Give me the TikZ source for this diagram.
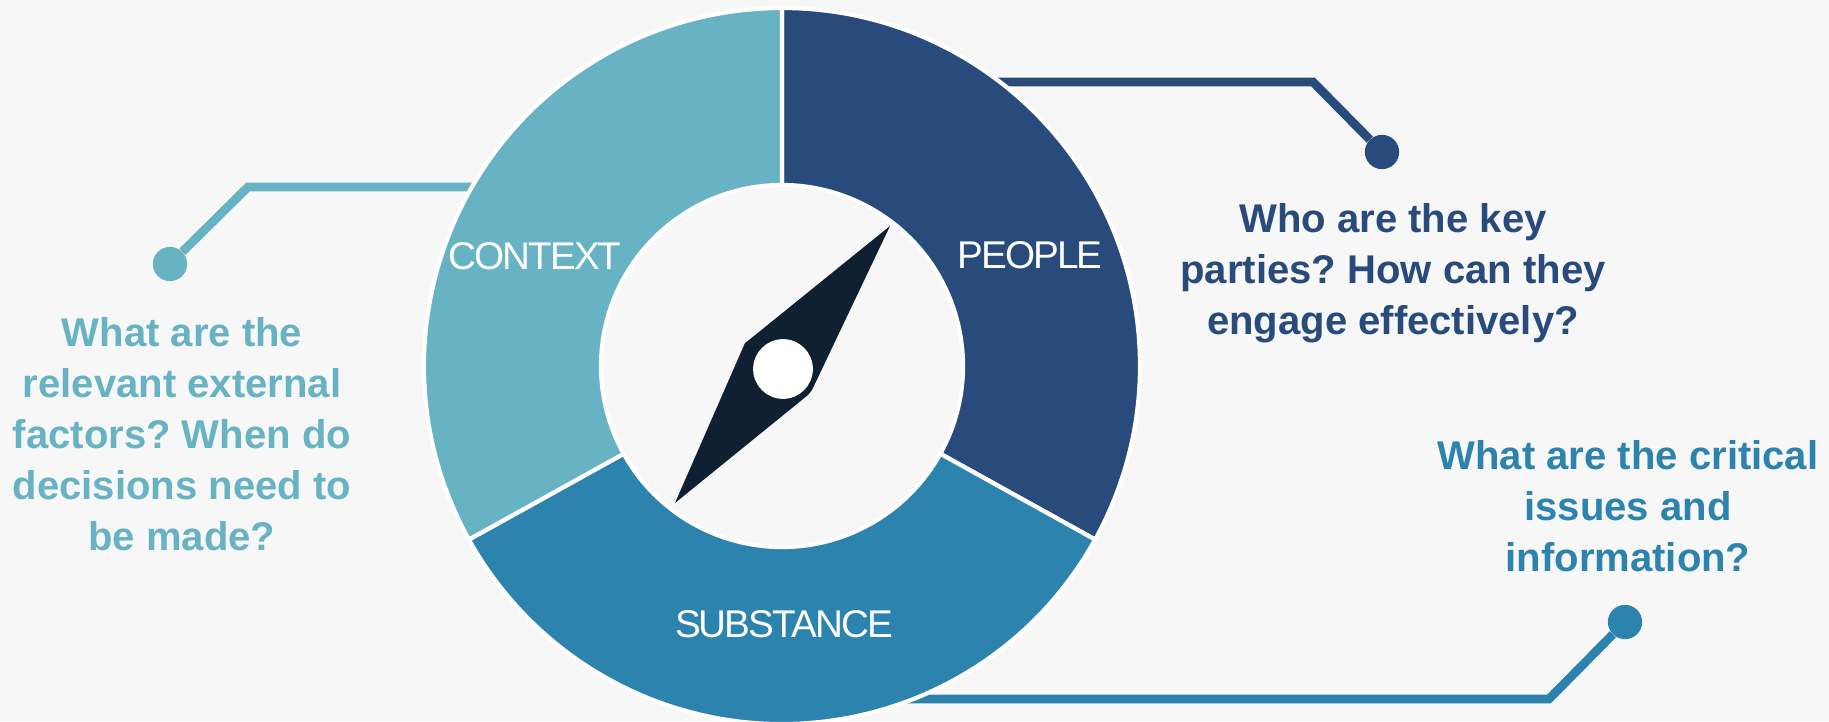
\documentclass[tikz,border=0pt]{standalone}
\usepackage{fontspec}
\setmainfont{Liberation Sans}
\usetikzlibrary{positioning}

\definecolor{pageback}{HTML}{F7F7F7}
\definecolor{contextcol}{HTML}{67B3C3}
\definecolor{peoplecol}{HTML}{284B7B}
\definecolor{substancecol}{HTML}{2C83AE}
\definecolor{needlecol}{HTML}{0F2033}

\frenchspacing
\begin{document}
\begin{tikzpicture}[
    x=0.02cm, y=0.02cm,
    sector/.style={draw=white, line width=2.4pt, line join=miter},
    leader/.style={line width=5pt, line join=miter},
    dot/.style={circle, inner sep=0pt, minimum size=19.5pt},
    question/.style={align=center, inner sep=0pt, font=\fontsize{22.8}{29}\selectfont\bfseries},
    segname/.style={inner sep=0pt, text=white, font=\fontsize{22}{25}\selectfont\addfontfeatures{LetterSpace=-5}}
]
\useasboundingbox[fill=pageback] (0,0) rectangle (1829,721);

% Leaders
\node[dot, fill=contextcol] (contextdot) at (170,457) {};
\node[dot, fill=peoplecol] (peopledot) at (1382,569) {};
\node[dot, fill=substancecol] (substancedot) at (1625,99) {};
\coordinate (contextend) at (480,534);
\coordinate (peopleend) at (985,639);
\coordinate (substanceend) at (880,22);
\draw[leader, draw=contextcol] (contextdot) -- (248,534) -- (contextend);
\draw[leader, draw=peoplecol] (peopledot) -- (1313,639) -- (peopleend);
\draw[leader, draw=substancecol] (substancedot) -- (1549,22) -- (substanceend);

% Ring
\begin{scope}[shift={(782,355)}]
\fill[white] (0,0) circle (183);
\draw[sector, fill=peoplecol] (90:181) -- (90:358) arc (90:-29:358) -- (-29:181) arc (-29:90:181) -- cycle;
\draw[sector, fill=substancecol] (-29:181) -- (-29:358) arc (-29:-151:358) -- (-151:181) arc (-151:-29:181) -- cycle;
\draw[sector, fill=contextcol] (209:181) -- (209:358) arc (209:90:358) -- (90:181) arc (90:209:181) -- cycle;
\fill[pageback] (0,0) circle (179);
\end{scope}

% Needle
\fill[needlecol] (890,495) -- (749,381) -- (745,378) -- (675,218) -- (808,326) -- (812,331) -- cycle;
\node[circle, fill=white, inner sep=0pt, minimum size=34pt] (hub) at (783,352) {};

% Segment names
\node[segname] (contextname) at (535,465) {CONTEXT};
\node[segname] (peoplename) at (1030,466) {PEOPLE};
\node[segname] (substancename) at (784,97) {SUBSTANCE};

% Questions
\node[question, text=contextcol] (contextq) at (182,287) {What are the\\relevant external\\factors? When do\\decisions need to\\be made?};
\node[question, text=peoplecol] (peopleq) at (1393,448) {Who are the key\\parties? How can they\\engage effectively?};
\node[question, text=substancecol] (substanceq) at (1628,215) {What are the critical\\issues and\\information?};
\end{tikzpicture}
\end{document}
